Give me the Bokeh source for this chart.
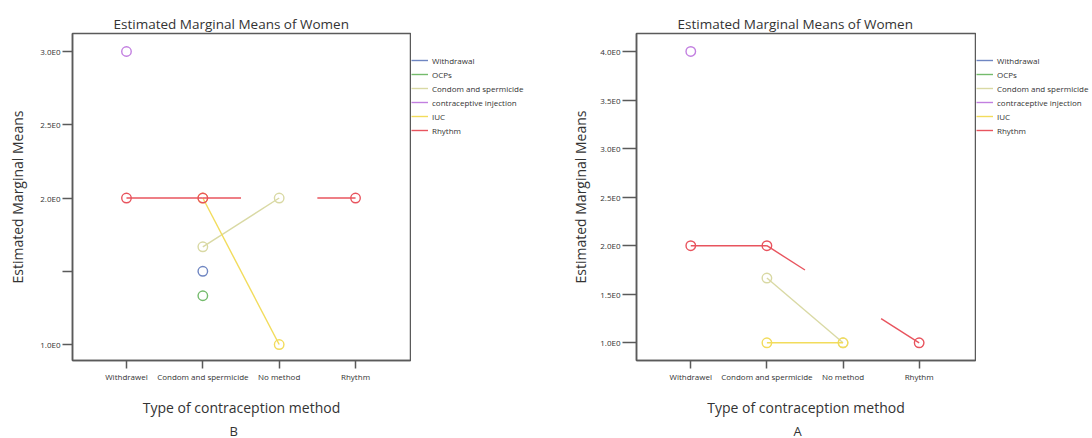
import math
from bokeh.plotting import figure
from bokeh.models import Legend, LegendItem, FixedTicker, Range1d, Title
from bokeh.layouts import row
from bokeh.embed import file_html
from bokeh.resources import INLINE

nan = float("nan")

categories = ["Withdrawel", "Condom and spermicide", "No method", "Rhythm"]
series_names = ["Withdrawal", "OCPs", "Condom and spermicide",
                "contraceptive injection", "IUC", "Rhythm"]
series_colors = ["#6f86c2", "#74bb6c", "#d9d9a4", "#c27fe0", "#f2dc5c", "#e8545e"]

# Panel B values (NaN = not estimable)
b_withdrawal = [nan, 1.5, nan, nan]
b_ocps = [nan, 1.333, nan, nan]
b_condom = [nan, 1.667, 2.0, nan]
b_injection = [3.0, nan, nan, nan]
b_iuc = [nan, 2.0, 1.0, nan]
b_rhythm = [2.0, 2.0, nan, 2.0]
b_rhythm_hidden = [nan, nan, 2.0, nan]   # value the half-lines point toward

# Panel A values
a_withdrawal = [nan, nan, nan, nan]
a_ocps = [nan, nan, nan, nan]
a_condom = [nan, 1.667, 1.0, nan]
a_injection = [4.0, nan, nan, nan]
a_iuc = [nan, 1.0, 1.0, nan]
a_rhythm = [2.0, 2.0, nan, 1.0]
a_rhythm_hidden = [nan, nan, 1.5, nan]

b_yticks = [1.0, 1.5, 2.0, 2.5, 3.0]
b_ylabels = ["1.0E0", "", "2.0E0", "2.5E0", "3.0E0"]
a_yticks = [1.0, 1.5, 2.0, 2.5, 3.0, 3.5, 4.0]
a_ylabels = ["1.0E0", "1.5E0", "2.0E0", "2.5E0", "3.0E0", "3.5E0", "4.0E0"]

title_text = "Estimated Marginal Means of Women"
x_label = "Type of contraception method"
y_label = "Estimated Marginal Means"

FONT = "Open Sans"
TXT = "#333333"
FRAME = "#5a5a5a"
HEIGHT = 438


def make_panel(series_vals, hidden_vals, yticks, ylabels, letter, frame_w,
               mb_left, xr, yr, tick_out, ylab_standoff):
    p = figure(frame_width=frame_w, frame_height=327, output_backend="svg",
               toolbar_location=None, x_range=Range1d(*xr), y_range=Range1d(*yr),
               min_border_left=mb_left, min_border_right=1,
               min_border_top=33, min_border_bottom=78)
    p.grid.visible = False
    p.outline_line_color = FRAME
    p.outline_line_width = 1.5
    p.background_fill_color = "white"
    p.border_fill_color = "white"

    xs = list(range(len(categories)))
    for name, color, vals in zip(series_names, series_colors, series_vals):
        p.line(xs, vals, line_color=color, line_width=1.4)
        p.scatter(xs, vals, marker="circle", size=9.5, fill_color=None,
                  line_color=color, line_width=1.4)

    # half-lines toward non-estimable cells (Rhythm)
    vals = series_vals[-1]
    color = series_colors[-1]
    for i, h in enumerate(hidden_vals):
        if math.isnan(h):
            continue
        for j in (i - 1, i + 1):
            if 0 <= j < len(vals) and not math.isnan(vals[j]):
                p.line([j, (i + j) / 2], [vals[j], (vals[j] + h) / 2],
                       line_color=color, line_width=1.4)

    # axes
    p.xaxis.ticker = FixedTicker(ticks=xs)
    p.xaxis.major_label_overrides = {x: c for x, c in zip(xs, categories)}
    p.yaxis.ticker = FixedTicker(ticks=yticks)
    p.yaxis.major_label_overrides = {t: l for t, l in zip(yticks, ylabels)}
    for ax in (p.xaxis, p.yaxis):
        ax.axis_line_color = FRAME
        ax.axis_line_width = 1.5
        ax.major_tick_line_color = FRAME
        ax.major_tick_line_width = 1.5
        ax.major_tick_in = 0
        ax.minor_tick_line_color = None
        ax.major_label_text_font = FONT
        ax.major_label_text_font_size = "8px"
        ax.major_label_text_color = TXT
        ax.axis_label_text_font = FONT
        ax.axis_label_text_font_size = "14px"
        ax.axis_label_text_font_style = "normal"
        ax.axis_label_text_color = TXT
    p.xaxis.major_tick_out = 8
    p.xaxis.major_label_standoff = 2
    p.xaxis.axis_label = x_label
    p.xaxis.axis_label_standoff = 13
    p.yaxis.major_tick_out = tick_out
    p.yaxis.major_label_standoff = 2
    p.yaxis.axis_label = y_label
    p.yaxis.axis_label_standoff = ylab_standoff

    p.title = Title(text=title_text, align="left", offset=41, standoff=2,
                    text_font=FONT, text_font_size="13.5px",
                    text_font_style="normal", text_color=TXT)
    p.add_layout(Title(text=letter, align="left", offset=157, standoff=0,
                       vertical_align="bottom", text_font=FONT,
                       text_font_size="13px", text_font_style="normal",
                       text_color=TXT), "below")
    return p


def make_legend(width):
    lg = figure(width=width, height=HEIGHT, output_backend="svg",
                toolbar_location=None, x_axis_location=None,
                y_axis_location=None, min_border=0, min_border_top=0,
                min_border_bottom=0, min_border_left=0, min_border_right=0,
                x_range=Range1d(0, 1), y_range=Range1d(0, 1))
    lg.grid.visible = False
    lg.outline_line_color = None
    items = []
    for name, color in zip(series_names, series_colors):
        r = lg.line([nan, nan], [nan, nan], line_color=color, line_width=1.4)
        items.append(LegendItem(label=name, renderers=[r]))
    legend = Legend(items=items, location=(0, 223),
                    orientation="vertical",
                    glyph_width=17, glyph_height=12, label_height=12,
                    label_standoff=4, spacing=2, padding=0, margin=0,
                    border_line_color=None, background_fill_alpha=0,
                    label_text_font=FONT, label_text_font_size="8px",
                    label_text_color=TXT)
    lg.add_layout(legend, "center")
    return lg


p1 = make_panel([b_withdrawal, b_ocps, b_condom, b_injection, b_iuc, b_rhythm],
                b_rhythm_hidden, b_yticks, b_ylabels, "B", 338, 72,
                (-0.707, 3.72), (0.891, 3.123), 10, 10)
l1 = make_legend(129)
p2 = make_panel([a_withdrawal, a_ocps, a_condom, a_injection, a_iuc, a_rhythm],
                a_rhythm_hidden, a_yticks, a_ylabels, "A", 339, 96,
                (-0.713, 3.74), (0.818, 4.185), 14, 7)
l2 = make_legend(116)

layout = row(p1, l1, p2, l2)
open("out.html", "w").write(file_html(layout, INLINE))
